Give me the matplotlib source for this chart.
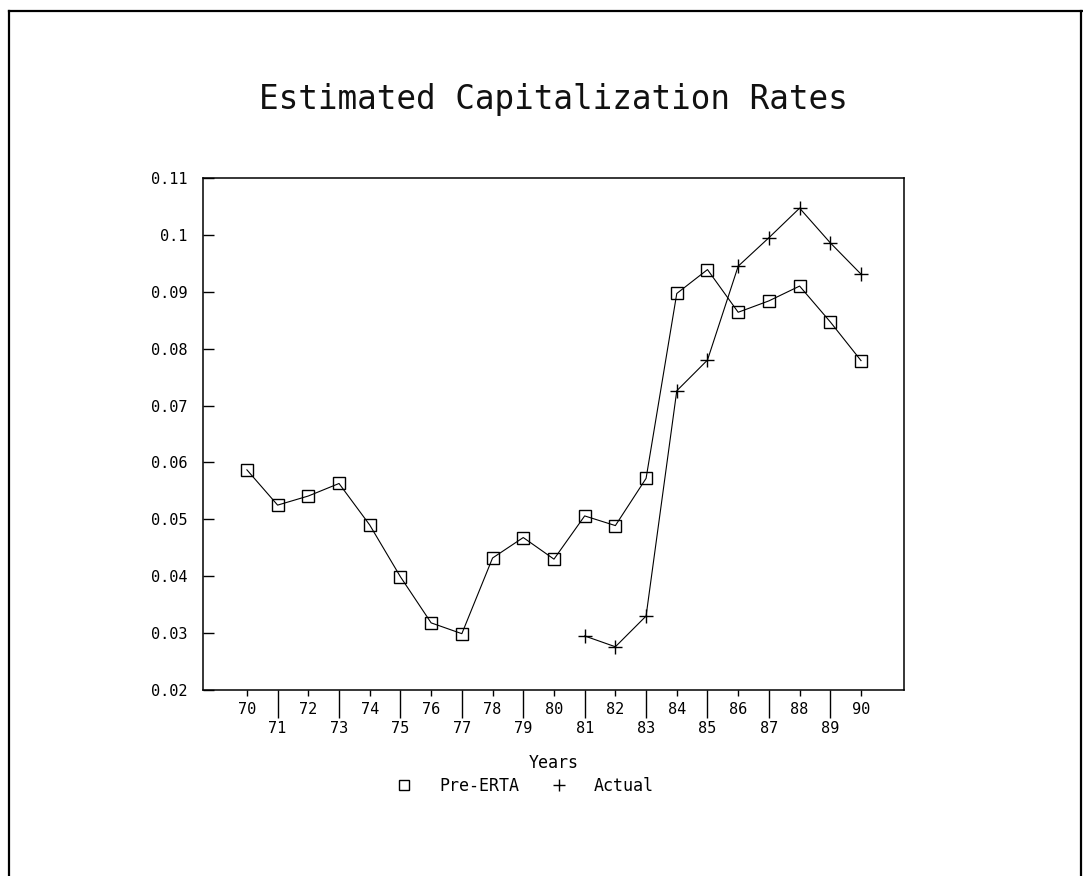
import matplotlib
matplotlib.use("Agg")
import matplotlib.pyplot as plt
from matplotlib.lines import Line2D

# Estimated capitalization rates by year
years = list(range(70, 91))
pre_erta = [0.0587, 0.0525, 0.0541, 0.0563, 0.0490, 0.0399, 0.0318, 0.0299,
            0.0432, 0.0468, 0.0430, 0.0506, 0.0489, 0.0572, 0.0897, 0.0939,
            0.0864, 0.0884, 0.0910, 0.0847, 0.0779]
actual_years = list(range(81, 91))
actual = [0.0295, 0.0276, 0.0330, 0.0726, 0.0780, 0.0945, 0.0995, 0.1047,
          0.0986, 0.0931]

y_ticks = [0.02, 0.03, 0.04, 0.05, 0.06, 0.07, 0.08, 0.09, 0.10, 0.11]
y_tick_labels = ["0.02", "0.03", "0.04", "0.05", "0.06", "0.07", "0.08",
                 "0.09", "0.1", "0.11"]
even_years = years[0::2]
odd_years = years[1::2]

FONT = "DejaVu Sans Mono"
plt.rcParams["font.family"] = FONT

W, H = 1083, 876
fig = plt.figure(figsize=(W / 100, H / 100), dpi=100)
fig.patch.set_facecolor("white")

# page frame (open at the bottom)
frame_kw = dict(color="black", lw=1.6, transform=fig.transFigure)
fig.add_artist(Line2D([9 / W, 9 / W], [0, 1 - 11 / H], **frame_kw))
fig.add_artist(Line2D([9 / W, 1], [1 - 11 / H, 1 - 11 / H], **frame_kw))
fig.add_artist(Line2D([1081 / W, 1081 / W], [0, 1 - 11 / H], **frame_kw))

left, right, top, bottom = 203, 904, 178, 690
ax = fig.add_axes([left / W, 1 - bottom / H, (right - left) / W, (bottom - top) / H])

ax.plot(years, pre_erta, color="black", lw=0.8, marker="s", markersize=9,
        markerfacecolor="none", markeredgecolor="black", markeredgewidth=1.0)
ax.plot(actual_years, actual, color="black", lw=0.8, marker="+",
        markersize=10, markeredgewidth=1.0)

ax.set_xlim(68.57, 91.4)
ax.set_ylim(0.02, 0.11)

for sp in ax.spines.values():
    sp.set_linewidth(1.1)

ax.set_yticks(y_ticks)
ax.set_yticklabels(y_tick_labels)
ax.tick_params(axis="y", direction="in", length=8, width=1.0, pad=11,
               labelsize=11)

# even years: short ticks, labels on first row; odd years: long ticks, second row
ax.set_xticks(even_years)
ax.set_xticklabels([str(y) for y in even_years])
ax.set_xticks(odd_years, minor=True)
ax.set_xticklabels([str(y) for y in odd_years], minor=True)
ax.tick_params(axis="x", which="major", direction="out", length=4, width=1.0,
               pad=5, labelsize=11)
ax.tick_params(axis="x", which="minor", direction="out", length=20, width=1.0,
               pad=2, labelsize=11)

ax.set_xlabel("Years", fontsize=12, labelpad=13)

fig.text(0.5106, 1 - 100 / H, "Estimated Capitalization Rates",
         ha="center", va="center", fontsize=23.5, color="#111111")

handles = [
    Line2D([], [], ls="none", marker="s", markersize=7.5, markerfacecolor="none",
           markeredgecolor="black", markeredgewidth=1.0),
    Line2D([], [], ls="none", marker="+", markersize=8, color="black",
           markeredgewidth=1.0),
]
fig.legend(handles, ["Pre-ERTA", "Actual"], loc="center",
           bbox_to_anchor=(525 / W, 1 - 786 / H), ncol=2, frameon=False,
           fontsize=12, handlelength=1.0, handletextpad=1.6,
           columnspacing=1.9, borderpad=0)

fig.savefig("out.png", dpi=100, facecolor="white")
